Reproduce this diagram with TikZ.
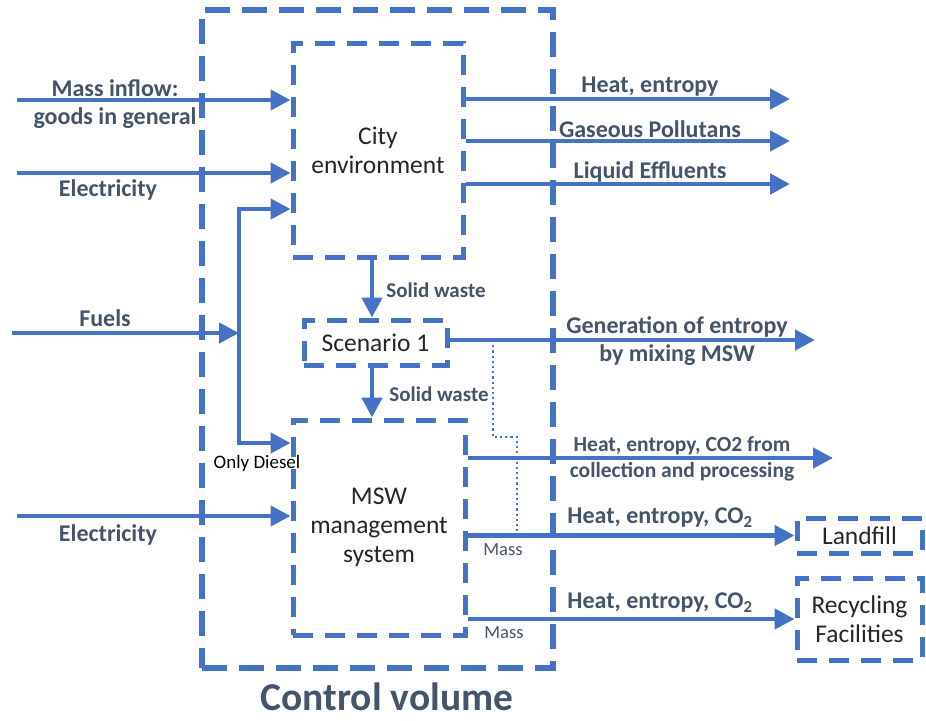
\documentclass[tikz,border=0pt]{standalone}
\usepackage{fontspec}
\setmainfont{Carlito}
\usetikzlibrary{arrows.meta}
\usepackage{xcolor}
\definecolor{flowblue}{HTML}{4472C4}
\definecolor{labgray}{HTML}{44546A}
\definecolor{boxtext}{HTML}{262626}

\begin{document}
\begin{tikzpicture}[x=1pt, y=-1pt,
  flow/.style={flowblue, line width=4.5pt, -{Triangle[length=20pt,width=20pt]}},
  box/.style={draw=flowblue, line width=5pt, dash pattern=on 20pt off 12pt, fill=white, align=center, text=boxtext, font=\fontsize{25.5}{29}\selectfont},
  lab/.style={text=labgray, font=\bfseries\fontsize{24}{28}\selectfont, align=center, inner sep=0},
  small/.style={text=labgray, font=\bfseries\fontsize{21}{24}\selectfont, inner sep=0}]
\useasboundingbox (0,0) rectangle (926,720);
% control volume
\node[draw=flowblue, line width=5.5pt, dash pattern=on 25pt off 12pt, minimum width=351, minimum height=658] (cv) at (377.5,339) {};
\node[text=labgray, font=\bfseries\fontsize{39.5}{42}\selectfont] (cvlab) at (387,697) {Control volume};

% boxes
\node[box, minimum width=170, minimum height=214] (city) at (378,150) {City\\environment};
\node[box, minimum width=143, minimum height=45] (scen) at (375.5,342.5) {Scenario 1};
\node[box, minimum width=172, minimum height=215] (msw) at (379,527.5) {MSW\\management\\system};
\node[box, minimum width=125, minimum height=35] (land) at (859.5,535.5) {Landfill};
\node[box, minimum width=125, minimum height=82] (recy) at (859.5,619) {Recycling\\Facilities};

% inflows
\coordinate (mass) at (17,100);
\coordinate (elec) at (17,173);
\coordinate (fuel) at (12,333);
\coordinate (elmsw) at (17,516);
\coordinate (dtop) at (239,209);
\coordinate (dbot) at (239,443);
\draw[flow] (mass) -- (city.west |- mass);
\draw[flow] (elec) -- (city.west |- elec);
\draw[flow] (fuel) -- (dtop |- fuel);
\draw[flow] (elmsw) -- (msw.west |- elmsw);
\draw[flow, {Triangle[length=20pt,width=20pt]}-{Triangle[length=20pt,width=20pt]}] (city.west |- dtop) -| (dbot) -- (msw.west |- dbot);
\node[lab] (masslab) at (115,104) {Mass inflow:\\goods in general};
\node[lab] (eleclab) at (108,190) {Electricity};
\node[lab] (fuellab) at (105,318) {Fuels};
\node[lab] (elmswlab) at (108,535) {Electricity};
\node[text=black, font=\fontsize{19}{22}\selectfont, inner sep=0] (diesel) at (257,463) {Only Diesel};

% solid waste
\draw[flow] (city.south -| 372,0) -- (scen.north -| 372,0);
\draw[flow] (scen.south -| 372,0) -- (msw.north -| 372,0);
\node[small] (sw1) at (436,290) {Solid waste};
\node[small] (sw2) at (439,394) {Solid waste};

% outflows of the city
\foreach \y/\t in {99/{Heat, entropy}, 141/{Gaseous Pollutans}, 184/{Liquid Effluents}} {
  \coordinate (out\y) at (790,\y);
  \draw[flow] (city.east |- out\y) -- (out\y);
  \node[lab] (lab\y) at (650,\y-12) {\t};
}

% outflows of scenario and msw
\coordinate (gen) at (815,340);
\coordinate (coll) at (833,458);
\draw[flow] (scen.east |- gen) -- (gen);
\draw[flow] (msw.east |- coll) -- (coll);
\draw[flow] (msw.east |- land) -- (land.west);
\draw[flow] (msw.east |- recy) -- (recy.west);
\node[lab] (genlab) at (677,341) {Generation of entropy\\by mixing MSW};
\node[lab, font=\bfseries\fontsize{21.5}{26}\selectfont] (colllab) at (682,459) {Heat, entropy, CO2 from\\collection and processing};
\node[lab] (landlab) at (660,518) {Heat, entropy, CO\textsubscript{2}};
\node[lab] (recylab) at (660,603) {Heat, entropy, CO\textsubscript{2}};
\node[small, font=\fontsize{18.5}{21}\selectfont] (mass1) at (503,550) {Mass};
\node[small, font=\fontsize{18.5}{21}\selectfont] (mass2) at (504,633) {Mass};

% dotted link
\draw[flowblue, line width=2.2pt, dash pattern=on 2.2pt off 3pt] (493,340) -- (493,437) -- (517,437) -- (517,535);
\end{tikzpicture}
\end{document}
